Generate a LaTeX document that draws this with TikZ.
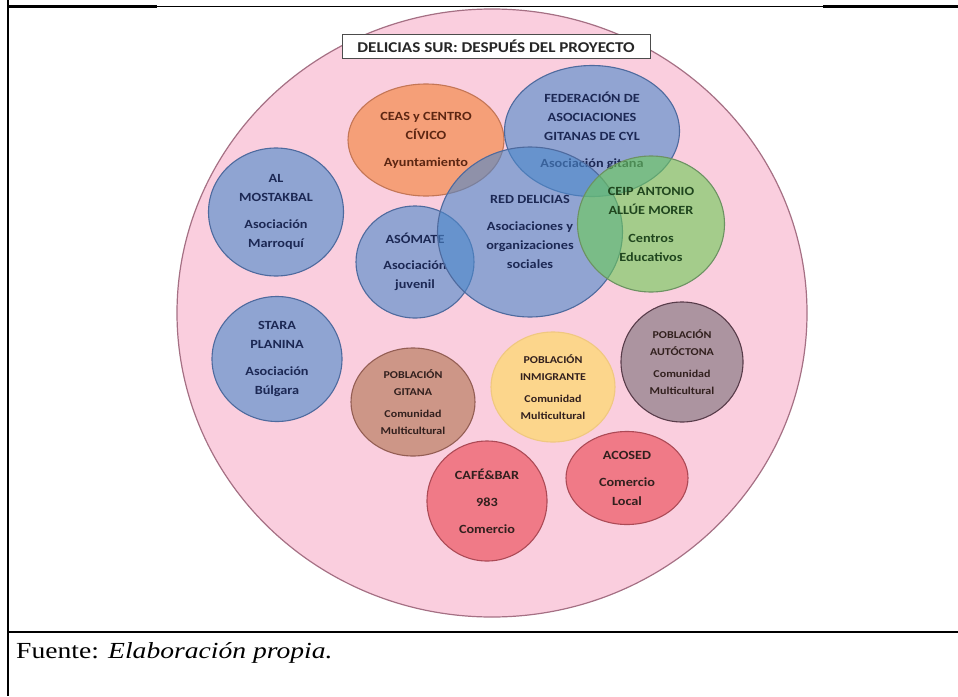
\documentclass[tikz,border=0pt]{standalone}
\usepackage{fontspec}
\setmainfont{Liberation Serif}[FakeStretch=1.2]
\newfontfamily\calfont{Carlito}[FakeStretch=1.14]
\usetikzlibrary{shapes.geometric}

\definecolor{rosa}{RGB}{250,206,222}
\definecolor{rosaline}{RGB}{165,112,132}
\definecolor{azul}{RGB}{143,164,210}
\definecolor{azulsee}{RGB}{76,136,202}
\definecolor{azulline}{RGB}{78,106,158}
\definecolor{azultext}{RGB}{28,40,84}
\definecolor{naranja}{RGB}{242,129,52}
\definecolor{naranjaline}{RGB}{196,118,86}
\definecolor{naranjatext}{RGB}{92,38,18}
\definecolor{verde}{RGB}{108,204,85}
\definecolor{verdeline}{RGB}{108,146,98}
\definecolor{verdetext}{RGB}{32,70,30}
\definecolor{teja}{RGB}{205,150,135}
\definecolor{tejaline}{RGB}{148,94,84}
\definecolor{amarillo}{RGB}{252,214,140}
\definecolor{amarilloline}{RGB}{240,200,128}
\definecolor{malva}{RGB}{172,148,160}
\definecolor{malvaline}{RGB}{88,60,74}
\definecolor{fresa}{RGB}{240,122,135}
\definecolor{fresaline}{RGB}{172,74,86}
\definecolor{oscuro}{RGB}{50,32,30}

\tikzset{
  blob/.style={ellipse, draw, line width=1.1pt, inner sep=0pt, align=center,
    font=\calfont\bfseries\fontsize{12.5}{19}\selectfont},
  see/.style={fill opacity=0.6, text opacity=1},
  chico/.style={font=\calfont\bfseries\fontsize{10.5}{17}\selectfont},
  azulblob/.style={blob, fill=azul, draw=azulline, text=azultext},
}

\begin{document}
\begin{tikzpicture}[x=1pt, y=-1pt]
\useasboundingbox (0,0) rectangle (958,696);
% marco de la tabla
\draw [line width=0.6pt] (7,6.5) -- (958,6.5);
\draw [line width=2.2pt] (7,6.5) -- (157,6.5) (823,6.5) -- (958,6.5);
\draw [line width=2pt] (7.5,0) -- (7.5,696);
\draw [line width=2pt] (7,632) -- (958,632);

\node [ellipse, fill=rosa, draw=rosaline, line width=1.2pt,
  minimum width=630pt, minimum height=608pt] (barrio) at (492,313) {};
\node [draw=black!70, fill=white, line width=0.8pt, inner sep=0pt,
  minimum width=308pt, minimum height=24pt, text=black!85,
  font=\calfont\bfseries\fontsize{15}{18}\selectfont] (titulo) at (496,46)
  {DELICIAS SUR: DESPUÉS DEL PROYECTO};

\node [azulblob, minimum width=135pt, minimum height=128pt] (mostakbal) at (276,212)
  {AL\\MOSTAKBAL\\[8pt]Asociación\\Marroquí};
\node [azulblob, minimum width=130pt, minimum height=125pt] (stara) at (277,359)
  {STARA\\PLANINA\\[8pt]Asociación\\Búlgara};
\node [azulblob, see, fill=azulsee, minimum width=118pt, minimum height=112pt] (asomate) at (415,262)
  {ASÓMATE\\[7pt]Asociación\\juvenil};
\node [blob, see, fill=naranja, draw=naranjaline, text=naranjatext,
  minimum width=156pt, minimum height=112pt] (ceas) at (426,140)
  {CEAS y CENTRO\\CÍVICO\\[8pt]Ayuntamiento};
\node [azulblob, see, fill=azulsee, minimum width=175pt, minimum height=131pt] (federacion) at (592,131)
  {FEDERACIÓN DE\\ASOCIACIONES\\GITANAS DE CYL\\[8pt]Asociación gitana};
\node [azulblob, see, fill=azulsee, minimum width=185pt, minimum height=170pt] (reddelicias) at (530,232)
  {RED DELICIAS\\[8pt]Asociaciones y\\organizaciones\\sociales};
\node [blob, see, fill=verde, draw=verdeline, text=verdetext,
  minimum width=147pt, minimum height=136pt] (ceip) at (651,224)
  {CEIP ANTONIO\\ALLÚE MORER\\[9pt]Centros\\Educativos};

\node [blob, chico, fill=teja, draw=tejaline, text=oscuro,
  minimum width=124pt, minimum height=108pt] (pobgitana) at (413,402)
  {POBLACIÓN\\GITANA\\[5pt]Comunidad\\Multicultural};
\node [blob, chico, fill=amarillo, draw=amarilloline, text=oscuro,
  minimum width=124pt, minimum height=110pt] (pobinmigrante) at (553,387)
  {POBLACIÓN\\INMIGRANTE\\[5pt]Comunidad\\Multicultural};
\node [blob, chico, fill=malva, draw=malvaline, text=oscuro,
  minimum width=122pt, minimum height=120pt] (pobautoctona) at (682,362)
  {POBLACIÓN\\AUTÓCTONA\\[5pt]Comunidad\\Multicultural};
\node [blob, fill=fresa, draw=fresaline, text=oscuro,
  minimum width=120pt, minimum height=120pt] (cafebar) at (487,501)
  {CAFÉ\&BAR\\[8pt]983\\[8pt]Comercio};
\node [blob, fill=fresa, draw=fresaline, text=oscuro,
  minimum width=122pt, minimum height=93pt] (acosed) at (627,478)
  {ACOSED\\[8pt]Comercio\\Local};

\node [anchor=base west, inner sep=0pt, font=\fontsize{23}{27}\selectfont] (fuente) at (16,658)
  {Fuente: \textit{Elaboración propia.}};
\end{tikzpicture}
\end{document}
